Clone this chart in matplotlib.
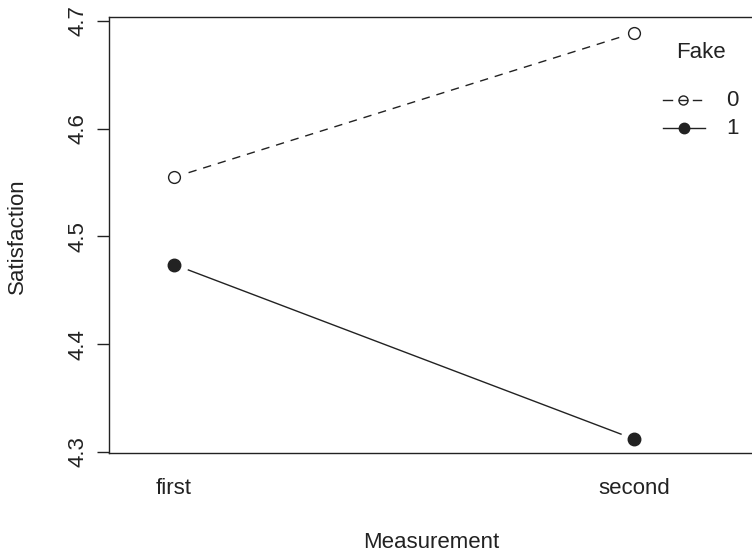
import matplotlib
matplotlib.use("Agg")
import matplotlib.pyplot as plt
from matplotlib.lines import Line2D

plt.rcParams['font.family'] = ['Liberation Sans', 'DejaVu Sans']
font_size = 16
ink = '#222222'

# data
measurement = ['first', 'second']
fake_0 = [4.555, 4.689]
fake_1 = [4.474, 4.312]
y_ticks = [4.3, 4.4, 4.5, 4.6, 4.7]

x = [1, 2]

fig = plt.figure(figsize=(7.52, 5.54), dpi=100)
# axes runs off the right edge like the original
ax = fig.add_axes([109 / 752, 101 / 554, 755 / 752, 436 / 554])

# dashed series (0), with a white halo so the line stops short of the points
ax.plot(x, fake_0, color=ink, lw=1.0, linestyle=(0, (6, 5)), zorder=2)
ax.plot(x, fake_0, linestyle='none', marker='o', ms=19, mfc='white', mec='white', zorder=2.1)
ax.plot(x, fake_0, linestyle='none', marker='o', ms=8.5, mfc='white', mec=ink, mew=1.0, zorder=4)

# solid series (1)
ax.plot(x, fake_1, color=ink, lw=1.0, zorder=2)
ax.plot(x, fake_1, linestyle='none', marker='o', ms=19, mfc='white', mec='white', zorder=2.1)
ax.plot(x, fake_1, linestyle='none', marker='o', ms=9, mfc=ink, mec=ink, zorder=4)

ax.set_xlim(1 - 65 / 460, 1 - 65 / 460 + 755 / 460)
ax.set_ylim(4.3 - 1 / 1077.5, 4.7 + 4 / 1077.5)

ax.set_xticks(x)
ax.set_xticklabels(measurement, fontsize=font_size, color=ink)
ax.tick_params(axis='x', length=0, pad=18)
ax.set_yticks(y_ticks)
ax.set_yticklabels([f'{v:.1f}' for v in y_ticks], fontsize=font_size, color=ink,
                   rotation=90, va='center')
ax.tick_params(axis='y', length=9, width=1.0, pad=6, color=ink)

for s in ax.spines.values():
    s.set_linewidth(1.0)
    s.set_color(ink)
    s.set_zorder(2.5)

fig.text(17 / 752, 1 - 236 / 554, 'Satisfaction', rotation=90, ha='center', va='center',
         fontsize=font_size, color=ink)
fig.text(431 / 752, 1 - 543 / 554, 'Measurement', ha='center', va='center',
         fontsize=font_size, color=ink)

# legend drawn by hand, R style
def fx(px):
    return px / 752

def fy(py):
    return 1 - py / 554

fig.text(fx(701), fy(53), 'Fake', ha='center', va='center', fontsize=font_size, color=ink)
fig.add_artist(Line2D([fx(663), fx(672)], [fy(100), fy(100)], color=ink, lw=1.0))
fig.add_artist(Line2D([fx(693), fx(701)], [fy(100), fy(100)], color=ink, lw=1.0))
fig.add_artist(Line2D([fx(679), fx(687)], [fy(100), fy(100)], color=ink, lw=1.0))
fig.add_artist(Line2D([fx(683)], [fy(100)], marker='o', ms=6.5, mfc='none', mec=ink, mew=1.0,
                      linestyle='none'))
fig.add_artist(Line2D([fx(663), fx(705)], [fy(128), fy(128)], color=ink, lw=1.0))
fig.add_artist(Line2D([fx(684)], [fy(128)], marker='o', ms=7.5, mfc=ink, mec=ink,
                      linestyle='none'))
fig.text(fx(732), fy(100), '0', ha='center', va='center', fontsize=font_size, color=ink)
fig.text(fx(732), fy(128), '1', ha='center', va='center', fontsize=font_size, color=ink)

fig.savefig('out.png', dpi=100)
